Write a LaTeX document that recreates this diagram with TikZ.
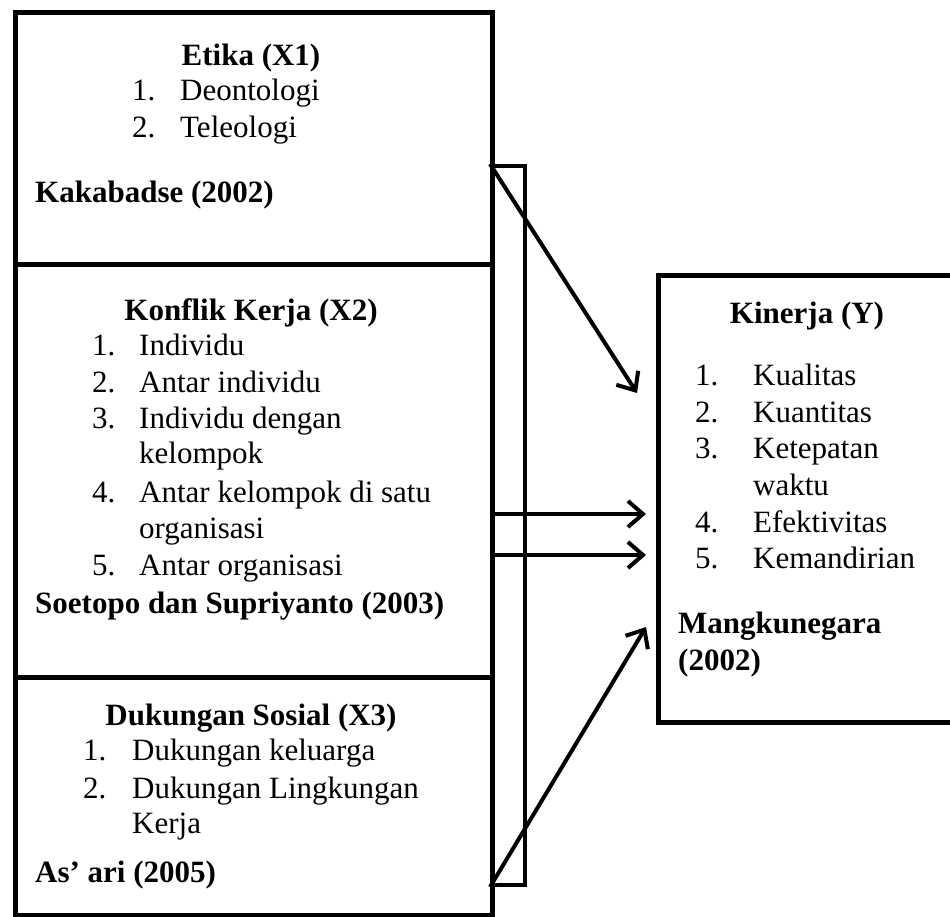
\documentclass[tikz,border=0pt]{standalone}
\usepackage{fontspec}
\setmainfont{Liberation Serif}
\usetikzlibrary{arrows.meta}
\begin{document}
\begin{tikzpicture}[x=1pt,y=-1pt,
  txt/.style={inner sep=0pt, anchor=base west, font=\fontsize{31}{37}\selectfont},
  ttl/.style={inner sep=0pt, anchor=base, font=\fontsize{31}{37}\selectfont\bfseries},
  reftxt/.style={inner sep=0pt, anchor=base west, font=\fontsize{31}{37}\selectfont\bfseries},
  boxnode/.style={draw, line width=4.5pt, inner sep=0pt, anchor=north west},
  arr/.style={line width=4pt, -{Straight Barb[length=15pt,width=26pt,line width=4pt]}}]
\useasboundingbox (0,0) rectangle (950,916);

% left boxes
\node[boxnode, minimum width=477pt, minimum height=252pt] (b1) at (13,10) {};
\node[boxnode, minimum width=477pt, minimum height=413pt] (b2) at (13,262) {};
\node[boxnode, minimum width=477pt, minimum height=238pt] (b3) at (13,675) {};
% narrow bar
\node[draw, line width=4pt, inner sep=0pt, anchor=north west, minimum width=33pt, minimum height=719pt] (bar) at (490,164) {};
% right box (right side runs off the page)
\node[boxnode, minimum width=310pt, minimum height=447pt] (y) at (656,273) {};

% box 1 text
\node[ttl] (t1) at (251,65) {Etika (X1)};
\node[txt] (t1a) at (132,100) {\makebox[48pt][l]{1.}Deontologi};
\node[txt] (t1b) at (132,137) {\makebox[48pt][l]{2.}Teleologi};
\node[reftxt] (r1) at (35,202) {Kakabadse (2002)};

% box 2 text
\node[ttl] (t2) at (251,320) {Konflik Kerja (X2)};
\node[txt] (t2a) at (92,355) {\makebox[47pt][l]{1.}Individu};
\node[txt] (t2b) at (92,392) {\makebox[47pt][l]{2.}Antar individu};
\node[txt] (t2c) at (92,428) {\makebox[47pt][l]{3.}Individu dengan};
\node[txt] (t2c2) at (139,463) {kelompok};
\node[txt] (t2d) at (92,502) {\makebox[47pt][l]{4.}Antar kelompok di satu};
\node[txt] (t2d2) at (139,538) {organisasi};
\node[txt] (t2e) at (92,575) {\makebox[47pt][l]{5.}Antar organisasi};
\node[reftxt] (r2) at (35,613) {Soetopo dan Supriyanto (2003)};

% box 3 text
\node[ttl] (t3) at (251,725) {Dukungan Sosial (X3)};
\node[txt] (t3a) at (83,760) {\makebox[49pt][l]{1.}Dukungan keluarga};
\node[txt] (t3b) at (83,798) {\makebox[49pt][l]{2.}Dukungan Lingkungan};
\node[txt] (t3b2) at (132,833) {Kerja};
\node[reftxt] (r3) at (35,882) {As’ ari (2005)};

% right box text
\node[ttl] (ty) at (807,323) {Kinerja (Y)};
\node[txt] (ya) at (695,385) {\makebox[58pt][l]{1.}Kualitas};
\node[txt] (yb) at (695,422) {\makebox[58pt][l]{2.}Kuantitas};
\node[txt] (yc) at (695,458) {\makebox[58pt][l]{3.}Ketepatan};
\node[txt] (yc2) at (753,495) {waktu};
\node[txt] (yd) at (695,532) {\makebox[58pt][l]{4.}Efektivitas};
\node[txt] (ye) at (695,568) {\makebox[58pt][l]{5.}Kemandirian};
\node[reftxt] (ry) at (678,633) {Mangkunegara};
\node[reftxt] (ry2) at (678,670) {(2002)};

% arrow ends
\coordinate (e1) at (637,393);
\coordinate (e2) at (646,514);
\coordinate (e3) at (646,555);
\coordinate (e4) at (646,627);
\coordinate (s2) at (490,514);
\coordinate (s3) at (490,555);

\draw[arr] (bar.north west) -- (e1);
\draw[arr] (s2) -- (e2);
\draw[arr] (s3) -- (e3);
\draw[arr] (bar.south west) -- (e4);
\end{tikzpicture}
\end{document}
